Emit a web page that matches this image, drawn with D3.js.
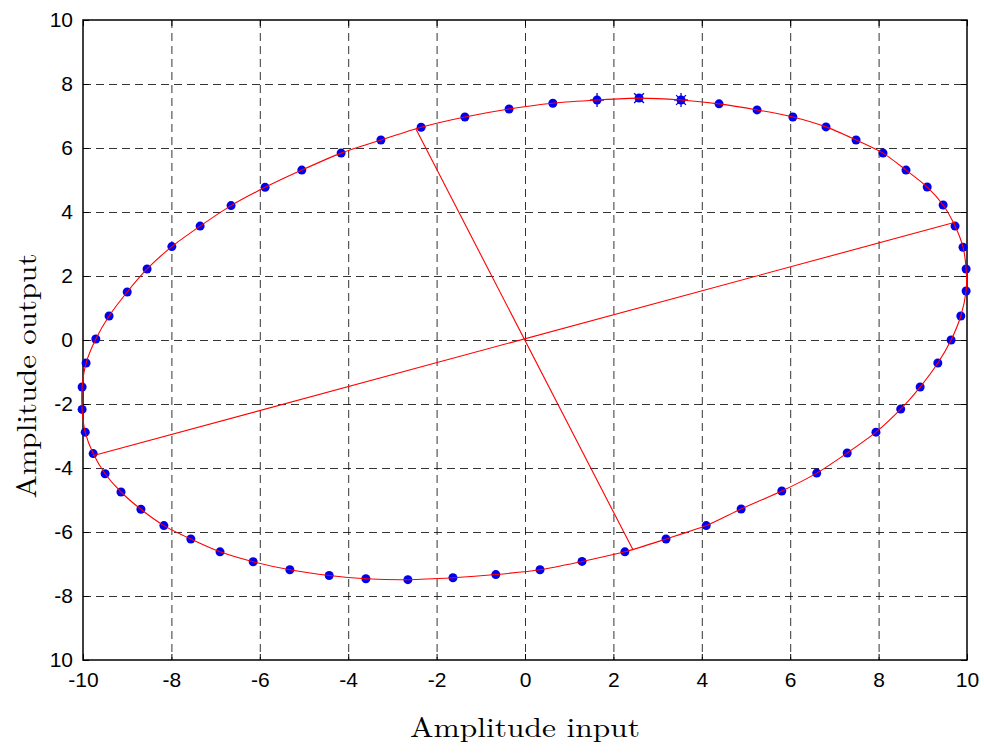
<!DOCTYPE html>
<html>
<head>
<meta charset="utf-8">
<script src="https://cdn.jsdelivr.net/npm/d3@7"></script>
<style>
  body { margin: 0; background: #fff; }
  svg text { fill: #000; }
</style>
</head>
<body>
<div id="chart"></div>
<script>
// measured points (input amplitude, output amplitude), going round the loop
const inputX = [
  -2.35, -1.36, -0.36, 0.63, 1.63, 2.58, 3.53, 4.39, 5.25, 6.06, 6.81, 7.49, 8.10, 8.62, 9.10, 9.46,
  9.73, 9.91, 9.98, 9.98, 9.86, 9.64, 9.34, 8.94, 8.50, 7.94, 7.29, 6.60, 5.81, 4.89, 4.10, 3.19,
  2.26, 1.29, 0.34, -0.66, -1.63, -2.65, -3.60, -4.43, -5.32, -6.15, -6.90, -7.56, -8.17, -8.69,
  -9.14, -9.50, -9.77, -9.95, -10.02, -10.02, -9.93, -9.71, -9.41, -9.00, -8.55, -7.99, -7.35,
  -6.65, -5.88, -5.05, -4.16, -3.26
];
const outputY = [
  6.65, 6.97, 7.22, 7.40, 7.50, 7.56, 7.50, 7.38, 7.19, 6.97, 6.66, 6.25, 5.84, 5.31, 4.78, 4.22,
  3.56, 2.90, 2.22, 1.53, 0.75, 0.00, -0.72, -1.47, -2.16, -2.88, -3.53, -4.16, -4.72, -5.28, -5.80,
  -6.22, -6.62, -6.92, -7.18, -7.33, -7.43, -7.49, -7.46, -7.36, -7.18, -6.93, -6.62, -6.22, -5.80,
  -5.29, -4.75, -4.18, -3.55, -2.88, -2.17, -1.47, -0.72, 0.03, 0.75, 1.50, 2.22, 2.92, 3.56,
  4.20, 4.77, 5.31, 5.84, 6.25
];

// points that also carry an extra marker on top
const extraX = [1.63, 2.58, 3.53];
const extraY = [7.50, 7.56, 7.50];
const extraShape = ['plus', 'cross', 'star'];

// principal axes of the fitted ellipse (end points)
const majorAxis = [[-9.78, -3.62], [9.73, 3.68]];
const minorAxis = [[-2.47, 6.60], [2.44, -6.55]];

// tick labels as printed
const xTicks = [-10, -8, -6, -4, -2, 0, 2, 4, 6, 8, 10];
const yTicks = [10, 8, 6, 4, 2, 0, -2, -4, -6, -8, -10];
const yTickLabels = ['10', '8', '6', '4', '2', '0', '-2', '-4', '-6', '-8', '10'];

const W = 984, H = 755;
const margin = { top: 20, right: 17, bottom: 95, left: 83 };
const width = W - margin.left - margin.right;
const height = H - margin.top - margin.bottom;

const svg = d3.select('#chart')
    .append('svg')
    .attr('width', W)
    .attr('height', H)
    .append('g')
    .attr('transform', `translate(${margin.left},${margin.top})`);

const x = d3.scaleLinear().domain([-10, 10]).range([0, width]);
const y = d3.scaleLinear().domain([-10, 10]).range([height, 0]);

// grid
const gridStyle = g => g.selectAll('line')
    .attr('stroke', '#111')
    .attr('stroke-opacity', 0.85)
    .attr('stroke-dasharray', '8,5');

svg.append('g')
    .attr('class', 'grid')
    .selectAll('line')
    .data(xTicks.slice(1, -1))
    .join('line')
    .attr('x1', d => x(d) + 0.5).attr('x2', d => x(d) + 0.5)
    .attr('y1', 0).attr('y2', height);
svg.append('g')
    .attr('class', 'grid')
    .selectAll('line')
    .data(yTicks.slice(1, -1))
    .join('line')
    .attr('y1', d => y(d) + 0.5).attr('y2', d => y(d) + 0.5)
    .attr('x1', 0).attr('x2', width);
svg.selectAll('.grid').call(gridStyle);

// axes with inward ticks
const tickFont = g => g.selectAll('text')
    .style('font-family', '"Liberation Sans", Arial, sans-serif')
    .style('font-size', '21px')
    .attr('fill', '#000');

svg.append('g')
    .attr('transform', `translate(0,${height})`)
    .call(d3.axisBottom(x).tickValues(xTicks).tickFormat(d => String(d))
        .tickSizeInner(-6).tickSizeOuter(0).tickPadding(12))
    .call(tickFont)
    .call(g => g.select('.domain').remove())
    .call(g => g.selectAll('text').attr('dy', '0.71em'));

svg.append('g')
    .call(d3.axisLeft(y).tickValues(yTicks).tickFormat((d, i) => yTickLabels[i])
        .tickSizeInner(-6).tickSizeOuter(0).tickPadding(10))
    .call(tickFont)
    .call(g => g.select('.domain').remove());

svg.append('g')
    .call(d3.axisTop(x).tickValues(xTicks).tickSizeInner(-6).tickSizeOuter(0).tickFormat(''))
    .call(g => g.select('.domain').remove());
svg.append('g')
    .attr('transform', `translate(${width},0)`)
    .call(d3.axisRight(y).tickValues(yTicks).tickSizeInner(-6).tickSizeOuter(0).tickFormat(''))
    .call(g => g.select('.domain').remove());

svg.selectAll('.tick line').attr('stroke', '#000');

svg.append('rect')
    .attr('width', width)
    .attr('height', height)
    .attr('fill', 'none')
    .attr('stroke', '#000')
    .attr('stroke-width', 1.5);

// blue measured points
const pts = inputX.map((v, i) => [v, outputY[i]]);
svg.append('g')
    .selectAll('circle')
    .data(pts)
    .join('circle')
    .attr('cx', d => x(d[0]))
    .attr('cy', d => y(d[1]))
    .attr('r', 4.5)
    .attr('fill', '#0000ee');

// extra markers
const arm = 7;
const extra = svg.append('g').attr('stroke', '#0000ee').attr('stroke-width', 1.3);
extraX.forEach((v, i) => {
    const cx = x(v), cy = y(extraY[i]);
    const s = extraShape[i];
    if (s === 'plus' || s === 'star') {
        extra.append('line').attr('x1', cx - arm).attr('x2', cx + arm).attr('y1', cy).attr('y2', cy);
        extra.append('line').attr('x1', cx).attr('x2', cx).attr('y1', cy - arm).attr('y2', cy + arm);
    }
    if (s === 'cross' || s === 'star') {
        const a = arm * 0.7;
        extra.append('line').attr('x1', cx - a).attr('x2', cx + a).attr('y1', cy - a).attr('y2', cy + a);
        extra.append('line').attr('x1', cx - a).attr('x2', cx + a).attr('y1', cy + a).attr('y2', cy - a);
    }
});

// fitted ellipse (red) through the points
const loop = d3.line()
    .x(d => x(d[0]))
    .y(d => y(d[1]))
    .curve(d3.curveCardinalClosed.tension(0.2));

svg.append('path')
    .datum(pts)
    .attr('fill', 'none')
    .attr('stroke', '#ff0000')
    .attr('stroke-width', 1.1)
    .attr('d', loop);

const seg = d3.line().x(d => x(d[0])).y(d => y(d[1]));
[majorAxis, minorAxis].forEach(a => {
    svg.append('path')
        .datum(a)
        .attr('fill', 'none')
        .attr('stroke', '#ff0000')
        .attr('stroke-width', 1.1)
        .attr('d', seg);
});

// axis titles
const titleFont = '"Latin Modern Roman", "CMU Serif", "Liberation Serif", "DejaVu Serif", serif';
svg.append('text')
    .attr('x', width / 2)
    .attr('y', 717)
    .attr('text-anchor', 'middle')
    .attr('textLength', 230)
    .attr('lengthAdjust', 'spacingAndGlyphs')
    .style('font-family', titleFont)
    .style('font-size', '28px')
    .text('Amplitude input');

svg.append('text')
    .attr('transform', `translate(${36 - margin.left},${376 - margin.top}) rotate(-90)`)
    .attr('text-anchor', 'middle')
    .attr('textLength', 245)
    .attr('lengthAdjust', 'spacingAndGlyphs')
    .style('font-family', titleFont)
    .style('font-size', '28px')
    .text('Amplitude output');
</script>
</body>
</html>
